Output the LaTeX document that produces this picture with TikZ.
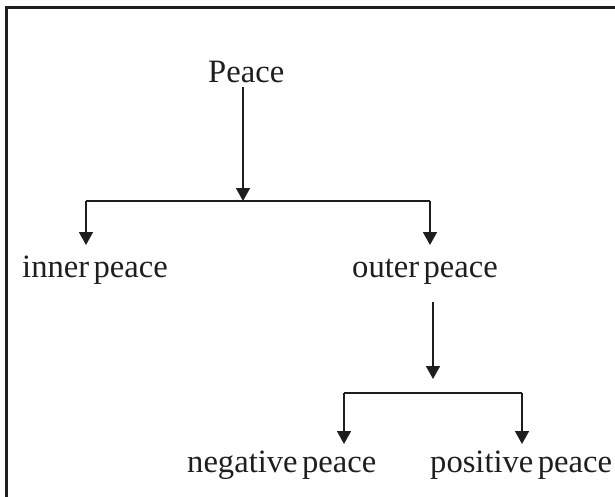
\documentclass[tikz,border=0pt]{standalone}
\usepackage{fontspec}
\setmainfont{Liberation Serif}[WordSpace=0.55]
\usetikzlibrary{arrows.meta}
\definecolor{ink}{HTML}{1E1E1E}
\tikzset{
  term/.style={anchor=base west, inner sep=0pt, font=\fontsize{32.6}{38}\selectfont, text=ink},
  link/.style={line width=1.7pt, draw=ink},
  flow/.style={link, -{Triangle[width=14pt,length=13pt]}},
}
\begin{document}
\begin{tikzpicture}[x=1pt,y=-1pt]
  \useasboundingbox (0,0) rectangle (615,497);
  % frame (top and left edges)
  \draw[line width=2.6pt, draw=ink] (6.5,497) -- (6.5,7.3) -- (615,7.3);

  % terms
  \node[term] (peace)    at (208,83)  {Peace};
  \node[term] (inner)    at (22,277)  {inner peace};
  \node[term] (outer)    at (352,277) {outer peace};
  \node[term] (negative) at (187,472) {negative peace};
  \node[term] (positive) at (430,472) {positive peace};

  % junction points
  \coordinate (j1)  at (243,201);
  \coordinate (b1l) at (86,201);
  \coordinate (b1r) at (430,201);
  \coordinate (t1l) at (86,245);
  \coordinate (t1r) at (430,245);
  \coordinate (j2)  at (433,379);
  \coordinate (b2l) at (344,393);
  \coordinate (b2r) at (522,393);
  \coordinate (t2l) at (344,444);
  \coordinate (t2r) at (522,444);

  % Peace -> inner / outer
  \draw[flow] ([yshift=-4pt]j1 |- peace.base) -- (j1);
  \draw[link] (b1l) -- (b1r);
  \draw[flow] (b1l) -- (t1l);
  \draw[flow] (b1r) -- (t1r);

  % outer peace -> negative / positive
  \draw[flow] ([yshift=-25pt]j2 |- outer.base) -- (j2);
  \draw[link] (b2l) -- (b2r);
  \draw[flow] (b2l) -- (t2l);
  \draw[flow] (b2r) -- (t2r);
\end{tikzpicture}
\end{document}
